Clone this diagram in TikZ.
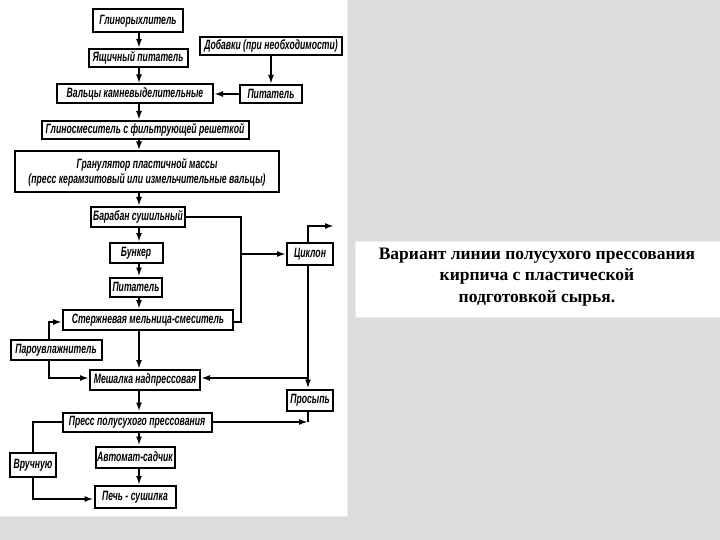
\documentclass[tikz,border=0pt]{standalone}
\usepackage{fontspec}
\usetikzlibrary{arrows.meta,calc}
\newfontfamily\hand[FakeStretch=0.64]{Liberation Sans}
\newfontfamily\capfont{Liberation Serif}
\definecolor{bg}{RGB}{220,220,220}
\definecolor{edge}{RGB}{236,236,236}
\begin{document}
\begin{tikzpicture}[x=1pt,y=-1pt,
  box/.style={draw=black,line width=2pt,fill=white,inner sep=0pt,align=center,
    font=\hand\bfseries\itshape\fontsize{13.5}{15}\selectfont},
  flow/.style={line width=1.8pt,-{Latex[length=9pt,width=6pt]}},
  wire/.style={line width=1.8pt}]
\useasboundingbox (0,0) rectangle (720,540);
\fill[bg] (0,0) rectangle (720,540);
\fill[white] (0,0) rectangle (347,516);
\draw[edge,line width=1pt] (0,516) -- (347,516) -- (347,0);
\fill[white,draw=edge,line width=1pt] (355,241) rectangle (720,317);
\node[font=\capfont\bfseries\fontsize{17.5}{21.5}\selectfont,align=center] (cap) at (537,277)
  {Вариант линии полусухого прессования\\кирпича с пластической\\подготовкой сырья.};
% nodes
\node[box,minimum width=90pt,minimum height=23pt] (n1) at (138,21) {Глинорыхлитель};
\node[box,minimum width=142pt,minimum height=18pt] (dob) at (271,46) {Добавки (при необходимости)};
\node[box,minimum width=99pt,minimum height=18pt] (n2) at (138,58) {Ящичный питатель};
\node[box,minimum width=156pt,minimum height=19pt] (n3) at (135,94) {Вальцы камневыделительные};
\node[box,minimum width=62pt,minimum height=18pt] (pit1) at (271,94) {Питатель};
\node[box,minimum width=207pt,minimum height=18pt] (n4) at (145,130) {Глиносмеситель с фильтрующей решеткой};
\node[box,minimum width=264pt,minimum height=41pt] (n5) at (147,172) {Гранулятор пластичной массы\\(пресс керамзитовый или измельчительные вальцы)};
\node[box,minimum width=94pt,minimum height=20pt] (n6) at (138,217) {Барабан сушильный};
\node[box,minimum width=53pt,minimum height=20pt] (n7) at (136,253) {Бункер};
\node[box,minimum width=46pt,minimum height=22pt] (cyc) at (310,254) {Циклон};
\node[box,minimum width=52pt,minimum height=19pt] (n8) at (136,287) {Питатель};
\node[box,minimum width=170pt,minimum height=20pt] (n9) at (148,320) {Стержневая мельница-смеситель};
\node[box,minimum width=91pt,minimum height=20pt] (par) at (56,350) {Пароувлажнитель};
\node[box,minimum width=110pt,minimum height=20pt] (n10) at (145,380) {Мешалка надпрессовая};
\node[box,minimum width=46pt,minimum height=21pt] (pros) at (310,400) {Просыпь};
\node[box,minimum width=149pt,minimum height=19pt] (n11) at (137,422) {Пресс полусухого прессования};
\node[box,minimum width=79pt,minimum height=21pt] (n12) at (135,457) {Автомат-садчик};
\node[box,minimum width=46pt,minimum height=24pt] (ruch) at (33,465) {Вручную};
\node[box,minimum width=81pt,minimum height=22pt] (n13) at (135,497) {Печь - сушилка};
% main chain
\coordinate (sp) at (139,0);
\foreach \a/\b in {n1/n2,n2/n3,n3/n4,n4/n5,n5/n6,n6/n7,n7/n8,n8/n9,n9/n10,n10/n11,n11/n12,n12/n13}
  \draw[flow] (sp |- \a.south) -- (sp |- \b.north);
% additives
\draw[flow] (dob.south) -- (pit1.north);
\draw[flow] (pit1.west) -- (n3.east);
% drum / mill exhaust to cyclone
\coordinate (j1) at (241,217);
\coordinate (j2) at (241,322);
\draw[wire] (n6.east) -- (j1) -- (j2) -- (n9.east |- j2);
\draw[flow] (j1 |- cyc.west) -- (cyc.west);
\coordinate (cu) at (308,226);
\coordinate (cout) at (334,226);
\draw[flow] (cyc.north -| cu) -- (cu) -- (cout);
% cyclone to prosyp and mixer
\coordinate (cb) at (308,378);
\draw[flow] (cyc.south -| cb) -- (pros.north -| cb);
\draw[flow] (cb) -- (n10.east |- cb);
% steam humidifier
\coordinate (pt) at (49,322);
\coordinate (pb) at (49,378);
\draw[flow] (par.north -| pt) -- (pt) -- (n9.west |- pt);
\draw[flow] (par.south -| pb) -- (pb) -- (n10.west |- pb);
% press
\coordinate (pr) at (308,422);
\draw[flow] (n11.east) -- (pr);
\draw[wire] (pros.south -| pr) -- (pr);
\coordinate (pl) at (33,422);
\coordinate (pd) at (33,499);
\draw[wire] (n11.west) -- (pl) -- (ruch.north);
\draw[flow] (ruch.south) -- (pd) -- (n13.west |- pd);
\end{tikzpicture}
\end{document}
